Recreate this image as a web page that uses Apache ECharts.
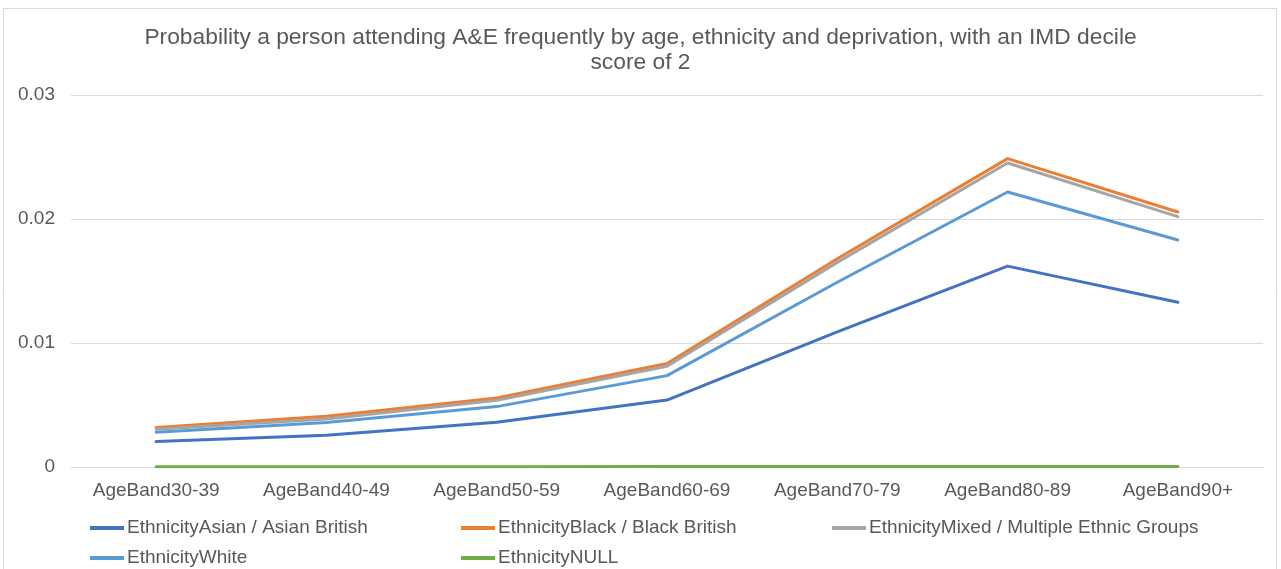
<!DOCTYPE html>
<html>
<head>
<meta charset="utf-8">
<script src="https://cdn.jsdelivr.net/npm/echarts@6/dist/echarts.min.js"></script>
<style>
  html, body { margin: 0; padding: 0; background: #fff; }
  #chart { width: 1281px; height: 569px; }
</style>
</head>
<body>
<div id="chart"></div>
<script>
// Age bands along the x axis
const categories = ['AgeBand30-39', 'AgeBand40-49', 'AgeBand50-59', 'AgeBand60-69', 'AgeBand70-79', 'AgeBand80-89', 'AgeBand90+'];

// Probability of frequent A&E attendance, IMD decile 2
const asian = [0.00205, 0.00256, 0.00360, 0.00540, 0.01090, 0.01620, 0.01328];
const black = [0.00318, 0.00409, 0.00557, 0.00834, 0.01680, 0.02487, 0.02056];
const mixed = [0.00304, 0.00387, 0.00538, 0.00812, 0.01650, 0.02452, 0.02019];
const white = [0.00280, 0.00358, 0.00487, 0.00737, 0.01490, 0.02218, 0.01831];
const nullEth = [0.00002, 0.00003, 0.00003, 0.00004, 0.00004, 0.00004, 0.00004];

const yTicks = [0, 0.01, 0.02, 0.03];

const seriesDefs = [
  { name: 'EthnicityAsian / Asian British', data: asian, color: '#4472C4' },
  { name: 'EthnicityBlack / Black British', data: black, color: '#ED7D31' },
  { name: 'EthnicityMixed / Multiple Ethnic Groups', data: mixed, color: '#A5A5A5' },
  { name: 'EthnicityWhite', data: white, color: '#5B9BD5' },
  { name: 'EthnicityNULL', data: nullEth, color: '#70AD47' }
];

const font = '"Liberation Sans", Arial, sans-serif';
const chart = echarts.init(document.getElementById('chart'));

chart.setOption({
  animation: false,
  backgroundColor: '#ffffff',
  textStyle: { fontFamily: font },
  graphic: [{
    type: 'rect',
    shape: { x: 3.5, y: 8.5, width: 1273, height: 570 },
    style: { fill: 'none', stroke: '#d9d9d9', lineWidth: 1 },
    silent: true
  }],
  title: {
    text: 'Probability a person attending A&E frequently by age, ethnicity and deprivation, with an IMD decile\nscore of 2',
    left: 'center',
    top: 20,
    textStyle: { fontFamily: font, fontSize: 22.8, fontWeight: 'normal', color: '#595959', lineHeight: 25 }
  },
  legend: {
    left: 90,
    top: 517,
    padding: 0,
    width: 1140,
    itemGap: 8,
    itemWidth: 34,
    itemHeight: 4,
    icon: 'rect',
    selectedMode: false,
    data: seriesDefs.map(s => s.name),
    textStyle: { fontFamily: font, fontSize: 19, color: '#595959', width: 326, lineHeight: 22, padding: [0, 0, 0, -2] }
  },
  grid: { left: 71, right: 18, top: 95, bottom: 102, containLabel: false },
  xAxis: {
    type: 'category',
    data: categories,
    boundaryGap: true,
    axisLine: { show: true, lineStyle: { color: '#d9d9d9', width: 1 } },
    axisTick: { show: false },
    axisLabel: { color: '#595959', fontSize: 19, fontFamily: font, margin: 14 }
  },
  yAxis: {
    type: 'value',
    min: yTicks[0],
    max: yTicks[yTicks.length - 1],
    interval: 0.01,
    axisLine: { show: false },
    axisTick: { show: false },
    splitLine: { lineStyle: { color: '#d9d9d9', width: 1 } },
    axisLabel: { color: '#595959', fontSize: 19, fontFamily: font, margin: 16,
      formatter: v => (v === 0 ? '0' : String(+v.toFixed(2))) }
  },
  series: seriesDefs.map(s => ({
    name: s.name,
    type: 'line',
    data: s.data,
    symbol: 'none',
    lineStyle: { color: s.color, width: 3, cap: 'round', join: 'round' },
    itemStyle: { color: s.color }
  }))
});
</script>
</body>
</html>
